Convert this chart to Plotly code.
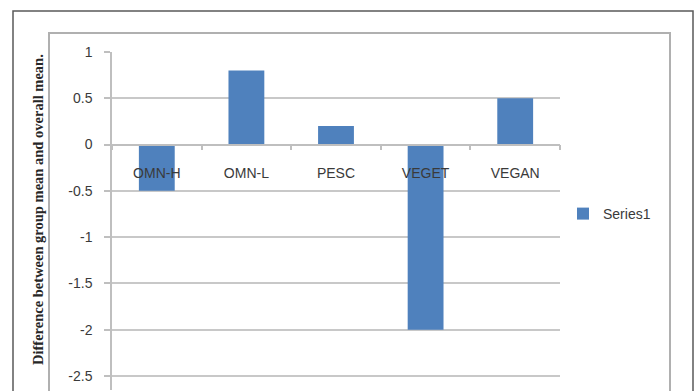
import plotly.graph_objects as go

categories = ["OMN-H", "OMN-L", "PESC", "VEGET", "VEGAN"]
series1 = [-0.5, 0.8, 0.2, -2.0, 0.5]
y_ticks = [1, 0.5, 0, -0.5, -1, -1.5, -2, -2.5]
y_tick_labels = ["1", "0.5", "0", "-0.5", "-1", "-1.5", "-2", "-2.5"]
y_title = "<b>Difference between group mean and overall mean.</b>"
series_name = "Series1"

W_PX, H_PX = 696, 391
L, R, T, B = 112, 560, 52, 390
y_range = [-2.651, 1.0]


def xp(px):
    return (px - L) / (R - L)


def yp(py):
    return (B - py) / (B - T)


zero_pos = (0 - y_range[0]) / (y_range[1] - y_range[0])

fig = go.Figure()
fig.add_trace(go.Bar(
    x=categories, y=series1, name=series_name,
    marker=dict(color="#4F81BD", line=dict(width=0)),
    showlegend=True,
))

label_font = dict(family="Liberation Sans, Arial, sans-serif", size=14, color="#3a3a3a")

fig.update_layout(
    width=W_PX, height=H_PX,
    margin=dict(l=L, r=W_PX - R, t=T, b=H_PX - B, pad=0),
    paper_bgcolor="white", plot_bgcolor="white",
    bargap=0.6,
    showlegend=True,
    legend=dict(x=xp(563), y=yp(214), xanchor="left", yanchor="middle",
                font=label_font, bgcolor="rgba(0,0,0,0)", itemwidth=30),
    xaxis=dict(
        type="category", anchor="free", position=zero_pos,
        showline=True, linecolor="#bfbfbf", linewidth=1.5,
        ticks="outside", ticklen=5, tickcolor="#bfbfbf", tickwidth=1.5,
        tickson="boundaries", showgrid=False,
        tickfont=label_font, ticklabelstandoff=16,
        range=[-0.5, 4.5], zeroline=False,
    ),
    yaxis=dict(
        range=y_range, tickvals=y_ticks, ticktext=y_tick_labels,
        showline=True, linecolor="#bfbfbf", linewidth=1.5,
        ticks="outside", ticklen=6, tickcolor="#bfbfbf", tickwidth=1.5,
        showgrid=True, gridcolor="#c8c8c8", gridwidth=1.5,
        zeroline=False, tickfont=label_font, ticklabelstandoff=9,
    ),
    shapes=[
        dict(type="rect", xref="paper", yref="paper",
             x0=xp(13), x1=xp(693), y0=yp(420), y1=yp(11),
             line=dict(color="#5a5a5a", width=1.5), fillcolor="rgba(0,0,0,0)", layer="below"),
        dict(type="rect", xref="paper", yref="paper",
             x0=xp(49), x1=xp(670), y0=yp(420), y1=yp(33),
             line=dict(color="#b0b0b0", width=2), fillcolor="rgba(0,0,0,0)", layer="below"),
    ],
    annotations=[
        dict(text=y_title, textangle=-90, xref="paper", yref="paper",
             x=xp(38), y=yp(210), xanchor="center", yanchor="middle", showarrow=False,
             font=dict(family="Liberation Serif, Times New Roman, serif", size=14.5, color="#262626")),
    ],
)

fig.write_html("out.html")
